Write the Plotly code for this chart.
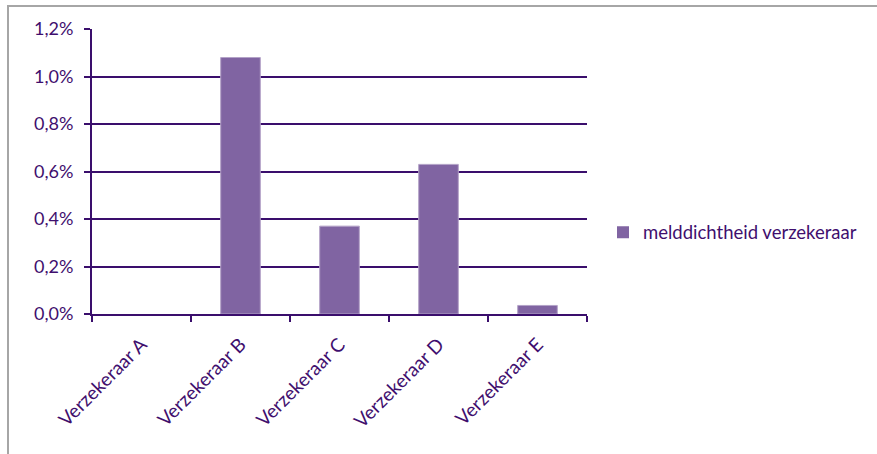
import plotly.graph_objects as go

# Melddichtheid per verzekeraar (als fractie; weergegeven in procenten)
categories = ["Verzekeraar A", "Verzekeraar B", "Verzekeraar C", "Verzekeraar D", "Verzekeraar E"]
melddichtheid = [0.0, 0.0108, 0.0037, 0.0063, 0.00036]
series_name = "melddichtheid verzekeraar"

text_color = "#3F0F6E"
grid_color = "#3A0E6C"
bar_color = "#8064A2"
bar_edge = "#B3A2C7"
font_family = "Lato, 'Open Sans', sans-serif"

# geen randlijn tekenen bij een waarde van nul
edge_widths = [1 if v > 0 else 0 for v in melddichtheid]

fig = go.Figure()
fig.add_trace(go.Bar(
    x=categories,
    y=melddichtheid,
    name=series_name,
    width=0.4,
    marker=dict(color=bar_color, line=dict(color=bar_edge, width=edge_widths)),
    showlegend=True,
))

W, H = 877, 454
ml, mr, mt, mb = 92, 290, 29, 139.5
pw = W - ml - mr
ph = H - mt - mb

fig.update_layout(
    width=W,
    height=H,
    margin=dict(l=ml, r=mr, t=mt, b=mb, pad=0),
    paper_bgcolor="white",
    plot_bgcolor="white",
    separators=",.",
    font=dict(family=font_family, size=19, color=text_color),
    bargap=0.6,
    showlegend=True,
    legend=dict(
        x=(608 - ml) / pw,
        y=(H - mb - 233) / ph,
        xanchor="left",
        yanchor="middle",
        bgcolor="rgba(0,0,0,0)",
        font=dict(size=18.5, color=text_color),
        itemwidth=30,
        indentation=-5,
    ),
    xaxis=dict(
        type="category",
        tickangle=-45,
        tickson="boundaries",
        ticks="outside",
        ticklen=6,
        tickwidth=1.5,
        tickcolor=grid_color,
        showline=True,
        linecolor=grid_color,
        linewidth=2,
        showgrid=False,
        tickfont=dict(size=19, color=text_color),
        ticklabelstandoff=10,
    ),
    yaxis=dict(
        range=[0, 0.012],
        dtick=0.002,
        tick0=0,
        tickformat=".1%",
        ticks="outside",
        ticklen=6,
        tickwidth=1.5,
        tickcolor=grid_color,
        showline=True,
        linecolor=grid_color,
        linewidth=2,
        showgrid=True,
        gridcolor=grid_color,
        gridwidth=1.5,
        zeroline=False,
        tickfont=dict(size=18, color=text_color),
        ticklabelstandoff=7,
    ),
)

# Grijze kaderlijn rond het grafiekgebied
fig.add_shape(
    type="rect",
    xref="paper", yref="paper",
    x0=(8 - ml) / pw, x1=(W + 20 - ml) / pw,
    y0=(H - mb - (H + 20)) / ph, y1=(H - mb - 6) / ph,
    line=dict(color="#A6A6A6", width=2),
    fillcolor="rgba(0,0,0,0)",
    layer="below",
)

fig.write_html("out.html")
